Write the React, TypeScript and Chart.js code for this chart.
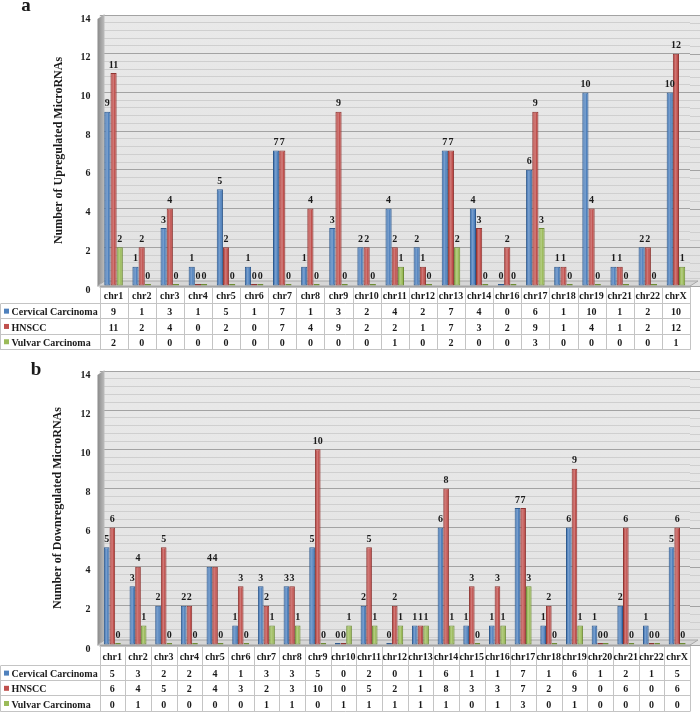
import React, { useEffect, useRef } from 'react';
import { Chart, registerables } from 'chart.js';

Chart.register(...registerables);

const FONT = "'Liberation Serif', 'Times New Roman', serif";

const SERIES_NAMES = ['Cervical Carcinoma', 'HNSCC', 'Vulvar Carcinoma'];
const SERIES_COLORS = ['#4F81BD', '#C0504D', '#9BBB59'];
const SERIES_BORDERS = ['#2F5A8E', '#8E3532', '#6E8C36'];

const Y_MAX = 14;
const Y_MAJOR_STEP = 2;
const Y_MINOR_STEP = 0.4;

// Panel a: upregulated
const UP_CATEGORIES = ['chr1', 'chr2', 'chr3', 'chr4', 'chr5', 'chr6', 'chr7', 'chr8', 'chr9', 'chr10', 'chr11', 'chr12', 'chr13', 'chr14', 'chr16', 'chr17', 'chr18', 'chr19', 'chr21', 'chr22', 'chrX'];
const UP_CERVICAL = [9, 1, 3, 1, 5, 1, 7, 1, 3, 2, 4, 2, 7, 4, 0, 6, 1, 10, 1, 2, 10];
const UP_HNSCC = [11, 2, 4, 0, 2, 0, 7, 4, 9, 2, 2, 1, 7, 3, 2, 9, 1, 4, 1, 2, 12];
const UP_VULVAR = [2, 0, 0, 0, 0, 0, 0, 0, 0, 0, 1, 0, 2, 0, 0, 3, 0, 0, 0, 0, 1];

// Panel b: downregulated
const DOWN_CATEGORIES = ['chr1', 'chr2', 'chr3', 'chr4', 'chr5', 'chr6', 'chr7', 'chr8', 'chr9', 'chr10', 'chr11', 'chr12', 'chr13', 'chr14', 'chr15', 'chr16', 'chr17', 'chr18', 'chr19', 'chr20', 'chr21', 'chr22', 'chrX'];
const DOWN_CERVICAL = [5, 3, 2, 2, 4, 1, 3, 3, 5, 0, 2, 0, 1, 6, 1, 1, 7, 1, 6, 1, 2, 1, 5];
const DOWN_HNSCC = [6, 4, 5, 2, 4, 3, 2, 3, 10, 0, 5, 2, 1, 8, 3, 3, 7, 2, 9, 0, 6, 0, 6];
const DOWN_VULVAR = [0, 1, 0, 0, 0, 0, 1, 1, 0, 1, 1, 1, 1, 1, 0, 1, 3, 0, 1, 0, 0, 0, 0];

type PanelDef = {
  letter: string;
  title: string;
  categories: string[];
  series: number[][];
  pad: { top: number; bottom: number; left: number; right: number };
  letterPos: [number, number];
  headerH: number;
  rowH: number;
};

const PANEL_A: PanelDef = {
  letter: 'a',
  title: 'Number of Upregulated MicroRNAs',
  categories: UP_CATEGORIES,
  series: [UP_CERVICAL, UP_HNSCC, UP_VULVAR],
  pad: { top: 6, bottom: 70, left: 48, right: 10 },
  letterPos: [26, 10.5],
  headerH: 17,
  rowH: 15.3,
};

const PANEL_B: PanelDef = {
  letter: 'b',
  title: 'Number of Downregulated MicroRNAs',
  categories: DOWN_CATEGORIES,
  series: [DOWN_CERVICAL, DOWN_HNSCC, DOWN_VULVAR],
  pad: { top: 11.5, bottom: 67, left: 47, right: 10 },
  letterPos: [36, 19],
  headerH: 20,
  rowH: 15.2,
};

const W = 700;
const H = 356;

const isMajor = (v: number) => Math.abs(v / Y_MAJOR_STEP - Math.round(v / Y_MAJOR_STEP)) < 1e-6;

function makePlugin(p: PanelDef) {
  return {
    id: 'panel3d' + p.letter,
    beforeDraw(chart: any) {
      const { ctx, chartArea: a } = chart;
      ctx.save();
      const g = ctx.createLinearGradient(0, a.top, 0, a.bottom);
      g.addColorStop(0, '#e9e9e9');
      g.addColorStop(1, '#e2e2e2');
      ctx.fillStyle = g;
      ctx.fillRect(a.left, a.top, W - a.left, a.bottom - a.top);
      ctx.restore();
    },
    beforeDatasetsDraw(chart: any) {
      const { ctx, chartArea: a } = chart;
      const ys = chart.scales.y;
      ctx.save();
      ys.ticks.forEach((t: any) => {
        const py = Math.round(ys.getPixelForValue(t.value)) + 0.5;
        ctx.strokeStyle = isMajor(t.value) ? '#a3a3a3' : '#cfcfcf';
        ctx.lineWidth = 1;
        ctx.beginPath();
        ctx.moveTo(a.right, py);
        ctx.lineTo(W, py);
        ctx.stroke();
      });
      const lg = ctx.createLinearGradient(a.left - 2, 0, a.left + 6, 0);
      lg.addColorStop(0, '#8a8a8a');
      lg.addColorStop(1, '#c4c4c4');
      ctx.fillStyle = lg;
      ctx.beginPath();
      ctx.moveTo(a.left - 2, a.top + 4);
      ctx.lineTo(a.left + 5, a.top - 1);
      ctx.lineTo(a.left + 5, a.bottom - 5);
      ctx.lineTo(a.left - 2, a.bottom);
      ctx.closePath();
      ctx.fill();
      ctx.fillStyle = '#d6d6d6';
      ctx.strokeStyle = '#a8a8a8';
      ctx.beginPath();
      ctx.moveTo(a.left - 2, a.bottom);
      ctx.lineTo(a.left + 5, a.bottom - 5);
      ctx.lineTo(W - 2, a.bottom - 5);
      ctx.lineTo(a.right, a.bottom);
      ctx.closePath();
      ctx.fill();
      ctx.stroke();
      ctx.restore();
    },
    afterDatasetsDraw(chart: any) {
      const { ctx } = chart;
      ctx.save();
      chart.data.datasets.forEach((ds: any, di: number) => {
        const meta = chart.getDatasetMeta(di);
        meta.data.forEach((el: any) => {
          const w = el.width;
          const h = el.base - el.y;
          if (h > 3) {
            ctx.fillStyle = 'rgba(255,255,255,0.22)';
            ctx.fillRect(el.x - w * 0.2, el.y + 1, w * 0.3, h - 2);
          }
        });
      });
      ctx.fillStyle = '#1a1a1a';
      ctx.font = `bold 10px ${FONT}`;
      ctx.textAlign = 'center';
      ctx.textBaseline = 'bottom';
      chart.data.datasets.forEach((ds: any, di: number) => {
        const meta = chart.getDatasetMeta(di);
        meta.data.forEach((el: any, i: number) => {
          ctx.fillText(String(ds.data[i]), el.x, el.y - 3);
        });
      });
      ctx.restore();
    },
    afterDraw(chart: any) {
      const { ctx, chartArea: a } = chart;
      const n = p.categories.length;
      const cw = (a.right - a.left) / n;
      const t0 = Math.round(a.bottom) + 1;
      const rowsY = [t0, t0 + p.headerH];
      for (let r = 1; r <= 3; r++) rowsY.push(t0 + p.headerH + r * p.rowH);
      const bottom = rowsY[4];
      ctx.save();
      ctx.strokeStyle = '#c4c4c4';
      ctx.lineWidth = 1;
      ctx.beginPath();
      ctx.moveTo(a.left, rowsY[0] + 0.5);
      ctx.lineTo(a.right, rowsY[0] + 0.5);
      for (let r = 1; r < rowsY.length; r++) {
        const y = Math.round(rowsY[r]) - 0.5;
        ctx.moveTo(0.5, y);
        ctx.lineTo(a.right, y);
      }
      for (let i = 0; i <= n; i++) {
        const x = Math.round(a.left + i * cw) + 0.5;
        ctx.moveTo(x, rowsY[0]);
        ctx.lineTo(x, bottom);
      }
      ctx.moveTo(0.5, rowsY[1]);
      ctx.lineTo(0.5, bottom);
      ctx.stroke();

      ctx.fillStyle = '#1a1a1a';
      ctx.font = `bold 10px ${FONT}`;
      ctx.textAlign = 'center';
      ctx.textBaseline = 'middle';
      p.categories.forEach((c, i) => {
        const x = a.left + (i + 0.5) * cw;
        ctx.fillText(c, x, (rowsY[0] + rowsY[1]) / 2 + 1);
        p.series.forEach((s, si) => {
          ctx.fillText(String(s[i]), x, (rowsY[si + 1] + rowsY[si + 2]) / 2 + 1);
        });
      });
      ctx.textAlign = 'left';
      ctx.font = `bold 10px ${FONT}`;
      SERIES_NAMES.forEach((name, si) => {
        const cy = (rowsY[si + 1] + rowsY[si + 2]) / 2;
        ctx.fillStyle = SERIES_COLORS[si];
        ctx.fillRect(4, cy - 3, 5, 5);
        ctx.fillStyle = '#1a1a1a';
        ctx.fillText(name, 11.5, cy + 1);
      });
      ctx.font = `bold 19px ${FONT}`;
      ctx.textAlign = 'center';
      ctx.textBaseline = 'alphabetic';
      ctx.fillText(p.letter, p.letterPos[0], p.letterPos[1]);
      ctx.restore();
    },
  };
}

function buildConfig(p: PanelDef): any {
  return {
    type: 'bar',
    data: {
      labels: p.categories,
      datasets: p.series.map((s, si) => ({
        label: SERIES_NAMES[si],
        data: s,
        backgroundColor: SERIES_COLORS[si],
        borderColor: SERIES_BORDERS[si],
        borderWidth: 1,
        borderSkipped: false,
        minBarLength: 2,
        categoryPercentage: 0.66,
        barPercentage: 1,
      })),
    },
    options: {
      responsive: false,
      animation: false,
      devicePixelRatio: 1,
      layout: { padding: p.pad },
      plugins: { legend: { display: false }, tooltip: { enabled: false } },
      scales: {
        x: { display: false, offset: true, grid: { display: false } },
        y: {
          min: 0,
          max: Y_MAX,
          afterFit: (s: any) => {
            s.width = 99.5 - p.pad.left;
          },
          ticks: {
            stepSize: Y_MINOR_STEP,
            autoSkip: false,
            padding: 9,
            labelOffset: 4,
            color: '#1a1a1a',
            font: { family: FONT, size: 10, weight: 'bold' },
            callback: (v: number) => (isMajor(v) ? String(Math.round(v)) : ''),
          },
          grid: {
            drawTicks: false,
            lineWidth: 1,
            color: (c: any) => (c.tick && isMajor(c.tick.value) ? '#a3a3a3' : '#cfcfcf'),
          },
          border: { display: false },
          title: {
            display: true,
            text: p.title,
            color: '#1a1a1a',
            font: { family: FONT, size: 12, weight: 'bold' },
            padding: { top: 4, bottom: 4 },
          },
        },
      },
    },
    plugins: [makePlugin(p)],
  };
}

function Panel({ p }: { p: PanelDef }) {
  const ref = useRef<HTMLCanvasElement>(null);
  useEffect(() => {
    const chart = new Chart(ref.current as HTMLCanvasElement, buildConfig(p));
    return () => chart.destroy();
  }, [p]);
  return <canvas ref={ref} width={W} height={H} style={{ display: 'block', width: W, height: H }} />;
}

export default function App() {
  useEffect(() => {
    document.body.style.margin = '0';
  }, []);
  return (
    <div style={{ width: W, height: H * 2, background: '#ffffff' }}>
      <Panel p={PANEL_A} />
      <Panel p={PANEL_B} />
    </div>
  );
}
